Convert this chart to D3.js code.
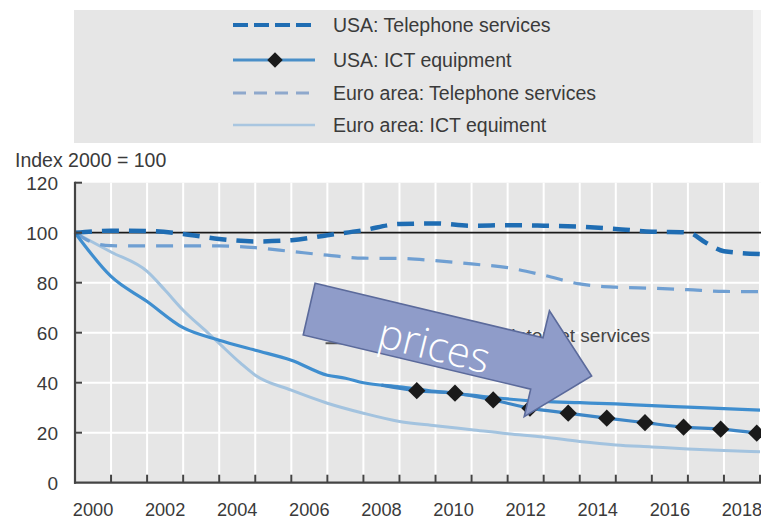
<!DOCTYPE html>
<html><head><meta charset="utf-8">
<script src="https://cdn.jsdelivr.net/npm/d3@7"></script>
<style>
html,body{margin:0;padding:0;background:#fff;}
svg{display:block;font-family:"Liberation Sans",Arial,sans-serif;}
</style></head>
<body><svg id="c" width="761" height="523"></svg>
<script>
// ---- data ----
const legendLabels = ["USA: Telephone services","USA: ICT equipment","Euro area: Telephone services","Euro area: ICT equiment"];
const yTicks = [0,20,40,60,80,100,120];
const xTickYears = [2001,2002,2003,2004,2005,2006,2007,2008,2009,2010,2011,2012,2013,2014,2015,2016,2017,2018,2019];
const xLabelYears = [2000,2002,2004,2006,2008,2010,2012,2014,2016,2018];

const usaTelX = [2000,2001,2002,2003,2004,2005,2006,2007,2008,2009,2010,2011,2012,2013,2014,2015,2016,2017,2017.5,2018,2019];
const usaTelY = [100,100.8,100.7,99.5,97.5,96.5,97,99,101,103.5,103.7,102.8,103,102.8,102.4,101.5,100.4,100.1,96,92.6,91.5];

const euroTelX = [2000,2000.5,2001,2002,2003,2004,2005,2006,2007,2008,2009,2010,2011,2012,2013,2014,2015,2016,2017,2018,2019];
const euroTelY = [100,96,94.8,94.7,94.7,94.7,94,92.5,91,89.8,89.7,88.8,87.5,86,83,79.5,78.2,77.8,77.2,76.5,76.4];

const usaNetX = [2000,2001,2002,2003,2004,2005,2006,2007,2007.5,2008,2009,2010,2011,2012,2013,2014,2015,2016,2017,2018,2019];
const usaNetY = [100,82.5,72.5,62,57,53,49,43,41.8,40,38.3,36.5,35,33.5,32.5,32,31.5,30.8,30.2,29.6,29];

const usaIctX = [2008.5,2009.48,2010.54,2011.6,2012.62,2013.68,2014.75,2015.81,2016.88,2017.91,2018.91];
const usaIctY = [39,36.8,35.8,33.1,29.8,27.8,25.8,24,22.2,21.4,19.8];

const euroIctX = [2000,2001,2002,2002.5,2003,2003.65,2004,2004.6,2005,2006,2007,2008,2009,2010,2011,2012,2013,2014,2015,2016,2017,2018,2019];
const euroIctY = [100,92.3,84.5,77,69,60.4,55.7,47.7,43,37,31.8,27.8,24.5,22.8,21.2,19.6,18.3,16.5,15.1,14.3,13.5,12.9,12.4];

const labelText = "Internet services";
const arrowPts = [[2006.66,79.8],[2012.98,58.0],[2013.16,68.8],[2014.33,42.7],[2012.46,26.4],[2012.64,37.4],[2006.33,59.1]];
const arrowText = "prices";

// ---- layout ----
const svg = d3.select("#c");
const x = d3.scaleLinear().domain([2000,2019]).range([75,760]);
const y = d3.scaleLinear().domain([0,120]).range([482.7,182.7]);

// legend box
svg.append("rect").attr("x",74).attr("y",10).attr("width",679).attr("height",133).attr("fill","#e6e6e6");
svg.append("rect").attr("x",753).attr("y",10).attr("width",8).attr("height",133).attr("fill","#f1f1f1");

const legStyles = [
  {c:"#1f6db3",w:4,dash:"15,6",marker:false},
  {c:"#4a8fc8",w:3,dash:null,marker:true},
  {c:"#8ea8cc",w:3,dash:"13,8",marker:false},
  {c:"#a9c6e0",w:2.5,dash:null,marker:false}
];
const legY = [25,60,93,125];
legendLabels.forEach((t,i)=>{
  const s = legStyles[i];
  const g = svg.append("g");
  g.append("line").attr("x1",233).attr("x2",315).attr("y1",legY[i]).attr("y2",legY[i])
    .attr("stroke",s.c).attr("stroke-width",s.w).attr("stroke-dasharray",s.dash);
  if(s.marker){
    g.append("path").attr("d",d3.symbol(d3.symbolSquare,120)())
      .attr("transform",`translate(275,${legY[i]}) rotate(45)`).attr("fill","#1a1a1a");
  }
  g.append("text").attr("x",333).attr("y",legY[i]).attr("dy","0.36em")
    .attr("font-size",19.5).attr("fill","#3a3a3a").text(t);
});

// plot background
svg.append("rect").attr("x",x(2000)).attr("y",y(120)).attr("width",761-x(2000)).attr("height",y(0)-y(120)).attr("fill","#e6e6e6");

// gridlines
svg.append("g").selectAll("line").data(xTickYears).join("line")
  .attr("x1",d=>x(d)).attr("x2",d=>x(d)).attr("y1",y(120)).attr("y2",y(0))
  .attr("stroke","#fff").attr("stroke-width",2);
svg.append("g").selectAll("line").data([20,40,60,80]).join("line")
  .attr("x1",x(2000)).attr("x2",761).attr("y1",d=>y(d)).attr("y2",d=>y(d))
  .attr("stroke","#fff").attr("stroke-width",2);
// reference 100 line
svg.append("line").attr("x1",x(2000)).attr("x2",761).attr("y1",y(100)).attr("y2",y(100))
  .attr("stroke","#1a1a1a").attr("stroke-width",1.8);

// series
const line = d3.line().x(d=>x(d[0])).y(d=>y(d[1])).curve(d3.curveMonotoneX);
function draw(xs,ys,color,w,dash){
  svg.append("path").datum(xs.map((v,i)=>[v,ys[i]])).attr("d",line)
    .attr("fill","none").attr("stroke",color).attr("stroke-width",w)
    .attr("stroke-dasharray",dash).attr("stroke-linejoin","round");
}
draw(euroIctX,euroIctY,"#a3c3df",3,null);
draw(euroTelX,euroTelY,"#6f9fd2",3.2,"17,11");
draw(usaNetX,usaNetY,"#3f8ecf",3.2,null);
draw(usaIctX,usaIctY,"#3d86c6",3.2,null);
draw(usaTelX,usaTelY,"#1f6db3",4.5,"17,10");

// diamonds
svg.append("g").selectAll("path").data(usaIctX.slice(1).map((v,i)=>[v,usaIctY[i+1]])).join("path")
  .attr("d",d3.symbol(d3.symbolSquare,150)())
  .attr("transform",d=>`translate(${x(d[0])},${y(d[1])}) rotate(45)`)
  .attr("fill","#1a1a1a");

// axes
svg.append("line").attr("x1",x(2000)).attr("x2",x(2000)).attr("y1",y(120)-1).attr("y2",y(0)+1)
  .attr("stroke","#444").attr("stroke-width",2.2);
svg.append("line").attr("x1",x(2000)-1).attr("x2",761).attr("y1",y(0)).attr("y2",y(0))
  .attr("stroke","#444").attr("stroke-width",2.2);
svg.append("g").selectAll("line").data(yTicks.slice(1)).join("line")
  .attr("x1",x(2000)).attr("x2",x(2000)+7).attr("y1",d=>y(d)).attr("y2",d=>y(d))
  .attr("stroke","#444").attr("stroke-width",2);
svg.append("g").selectAll("line").data(xTickYears).join("line")
  .attr("x1",d=>x(d)).attr("x2",d=>x(d)).attr("y1",y(0)).attr("y2",y(0)-8)
  .attr("stroke","#444").attr("stroke-width",2);

// tick labels
svg.append("g").selectAll("text").data(yTicks).join("text")
  .attr("x",58).attr("y",d=>y(d)).attr("dy","0.36em").attr("text-anchor","end")
  .attr("font-size",19).attr("fill","#3a3a3a").text(d=>d);
svg.append("g").selectAll("text").data(xLabelYears).join("text")
  .attr("x",d=>x(d+0.5)).attr("y",516).attr("text-anchor","middle")
  .attr("font-size",18.2).attr("fill","#3a3a3a").text(d=>d);
svg.append("text").attr("x",15).attr("y",167).attr("font-size",19.5).attr("fill","#3a3a3a").text("Index 2000 = 100");

// direct label + leader (mostly hidden by arrow)
svg.append("line").attr("x1",x(2006.95)).attr("x2",x(2011.8)).attr("y1",y(55.8)).attr("y2",y(55.8))
  .attr("stroke","#555").attr("stroke-width",2);
svg.append("text").attr("x",x(15.95+2000)).attr("y",y(56.3)).attr("text-anchor","end")
  .attr("font-size",19).attr("fill","#444").text(labelText);

// arrow overlay
svg.append("path").attr("d",d3.line().x(d=>x(d[0])).y(d=>y(d[1]))(arrowPts)+"Z")
  .attr("fill","#8f9cc9").attr("stroke","#5b6a9b").attr("stroke-width",1.6);
svg.append("text").attr("transform",`translate(${x(2009.95)},${y(54)}) rotate(14)`)
  .attr("text-anchor","middle").attr("dy","0.3em")
  .attr("font-family","'Open Sans',Lato,sans-serif").attr("font-weight",300)
  .attr("font-size",42).attr("fill","#ffffff").text(arrowText);
</script></body></html>
